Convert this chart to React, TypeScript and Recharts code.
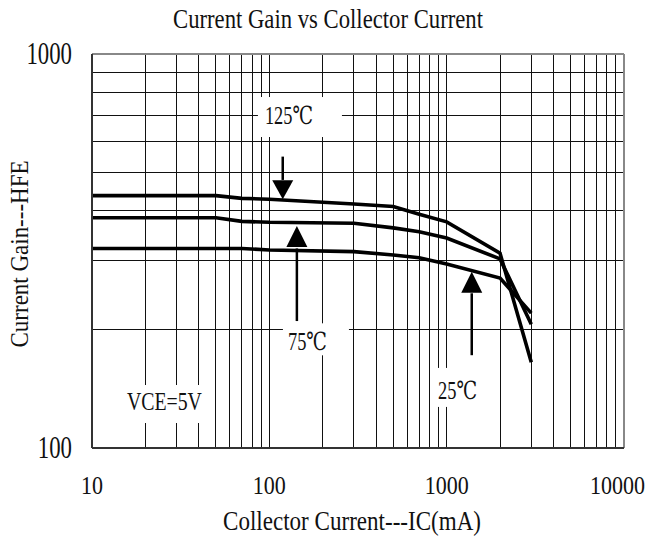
import { LineChart, Line, XAxis, YAxis, CartesianGrid, ReferenceLine, ReferenceDot } from 'recharts';

// collector current (mA) and current gain
const current = [10, 50, 70, 100, 300, 500, 700, 1000, 2000, 3000];
const hfe125 = [437, 437, 430, 428, 416, 410, 392, 375, 312, 165];
const hfe75 = [384, 384, 376, 374, 372, 362, 354, 341, 302, 206];
const hfe25 = [321, 321, 321, 318, 315, 309, 304, 293, 270, 220];

const xTicks = [10, 20, 30, 40, 50, 60, 70, 80, 90, 100, 200, 300, 400, 500, 600, 700, 800, 900, 1000,
  2000, 3000, 4000, 5000, 6000, 7000, 8000, 9000, 10000];
const yTicks = [100, 200, 300, 400, 500, 600, 700, 800, 900, 1000];
const xLabels = [10, 100, 1000, 10000];
const yLabels = [100, 1000];

// annotation texts, anchored in data units (mA, hFE)
const notes = [
  { text: '125℃', ic: 129, hfe: 698, w: 48, box: [-31, 53, -18.5, 21.5] },
  { text: '75℃', ic: 164, hfe: 186, w: 39, box: [-24.5, 41.5, -18.5, 13.5] },
  { text: '25℃', ic: 1151, hfe: 140, w: 39, box: [-22.5, 25, -22.5, 16.5] },
  { text: 'VCE=5V', ic: 25.6, hfe: 131.6, w: 75, box: [-44.5, 45.5, -16, 22] },
];

// arrows: stem from -> head base, tip on curve
const arrows = [
  { ic: 119, from: 549, base: 479, tip: 428 },
  { ic: 143, from: 210, base: 321, tip: 366 },
  { ic: 1385, from: 172, base: 247, tip: 280 },
];

const rows = current.map((ic, i) => ({ ic, t125: hfe125[i], t75: hfe75[i], t25: hfe25[i] }));

const FONT = '"Liberation Serif", "DejaVu Serif", serif';

const renderXTick = (p: any) => {
  const v = p.payload.value;
  if (!xLabels.includes(v)) return <g />;
  const s = String(v);
  // last label sits against the right edge of the page
  const last = v === 10000;
  return (
    <text x={last ? p.x + 21 : p.x} y={p.y + 46} fontFamily={FONT} fontSize={26} fill="#111"
      textAnchor={last ? 'end' : 'middle'}
      textLength={s.length * 11} lengthAdjust="spacingAndGlyphs">{s}</text>
  );
};

const renderYTick = (p: any) => {
  const v = p.payload.value;
  if (!yLabels.includes(v)) return <g />;
  const s = String(v);
  return (
    <text x={p.x - 20} y={p.y + 9.5} fontFamily={FONT} fontSize={31} fill="#111" textAnchor="end"
      textLength={s.length * 11.4} lengthAdjust="spacingAndGlyphs">{s}</text>
  );
};

const noteShape = (n: typeof notes[number]) => (p: any) => {
  const [l, r, t, b] = n.box;
  return (
    <g>
      <rect x={p.cx + l} y={p.cy + t} width={r - l} height={b - t} fill="#fff" />
      <text x={p.cx} y={p.cy + 8.5} fontFamily={FONT} fontSize={25} fill="#111" textAnchor="middle"
        textLength={n.w} lengthAdjust="spacingAndGlyphs">{n.text}</text>
    </g>
  );
};

const headShape = (up: boolean) => (p: any) => {
  const h = up ? 21 : 19;
  const d = up
    ? `M${p.cx},${p.cy} L${p.cx - 10.5},${p.cy + h} L${p.cx + 10.5},${p.cy + h} Z`
    : `M${p.cx},${p.cy} L${p.cx - 10.5},${p.cy - h} L${p.cx + 10.5},${p.cy - h} Z`;
  return <path d={d} fill="#000" />;
};

const App = () => {
  return (
    <div style={{ position: 'absolute', left: 0, top: 0, width: 656, height: 539, background: '#fff' }}>
      <LineChart width={656} height={539} data={rows} margin={{ top: 54, right: 32, bottom: 0, left: 0 }}>
        <CartesianGrid stroke="#111" strokeWidth={1} shapeRendering="crispEdges" />
        <XAxis dataKey="ic" type="number" scale="log" domain={[10, 10000]} ticks={xTicks} interval={0}
          tickSize={0} tickMargin={0} height={91} tick={renderXTick} allowDataOverflow
          axisLine={{ stroke: '#333', strokeWidth: 2 }} />
        <YAxis type="number" scale="log" domain={[100, 1000]} ticks={yTicks} interval={0}
          tickSize={0} tickMargin={0} width={92} tick={renderYTick} allowDataOverflow
          axisLine={{ stroke: '#333', strokeWidth: 2 }} />
        <ReferenceLine y={1000} stroke="#888" strokeWidth={2} />
        <ReferenceLine x={10000} stroke="#888" strokeWidth={2} />

        {notes.map((n) => (
          <ReferenceDot key={n.text} x={n.ic} y={n.hfe} r={1} shape={noteShape(n)} />
        ))}

        <Line type="linear" dataKey="t125" stroke="#000" strokeWidth={3.6} dot={false} isAnimationActive={false} />
        <Line type="linear" dataKey="t75" stroke="#000" strokeWidth={3.6} dot={false} isAnimationActive={false} />
        <Line type="linear" dataKey="t25" stroke="#000" strokeWidth={3.6} dot={false} isAnimationActive={false} />

        {arrows.map((a, i) => (
          <ReferenceLine key={'s' + i} segment={[{ x: a.ic, y: a.from }, { x: a.ic, y: a.base }]}
            stroke="#000" strokeWidth={2.5} />
        ))}
        {arrows.map((a, i) => (
          <ReferenceDot key={'h' + i} x={a.ic} y={a.tip} r={1} shape={headShape(a.from < a.tip)} />
        ))}
      </LineChart>

      <svg width={656} height={539} style={{ position: 'absolute', left: 0, top: 0, pointerEvents: 'none' }}>
        <text x={328} y={28} fontFamily={FONT} fontSize={27} fill="#111" textAnchor="middle"
          textLength={310} lengthAdjust="spacingAndGlyphs">Current Gain vs Collector Current</text>
        <text x={352} y={530} fontFamily={FONT} fontSize={27} fill="#111" textAnchor="middle"
          textLength={258} lengthAdjust="spacingAndGlyphs">Collector Current---IC(mA)</text>
        <text x={28} y={254} fontFamily={FONT} fontSize={26} fill="#111" textAnchor="middle"
          textLength={187} lengthAdjust="spacingAndGlyphs" transform="rotate(-90 28 254)">Current Gain---HFE</text>
      </svg>
    </div>
  );
};

export default App;
